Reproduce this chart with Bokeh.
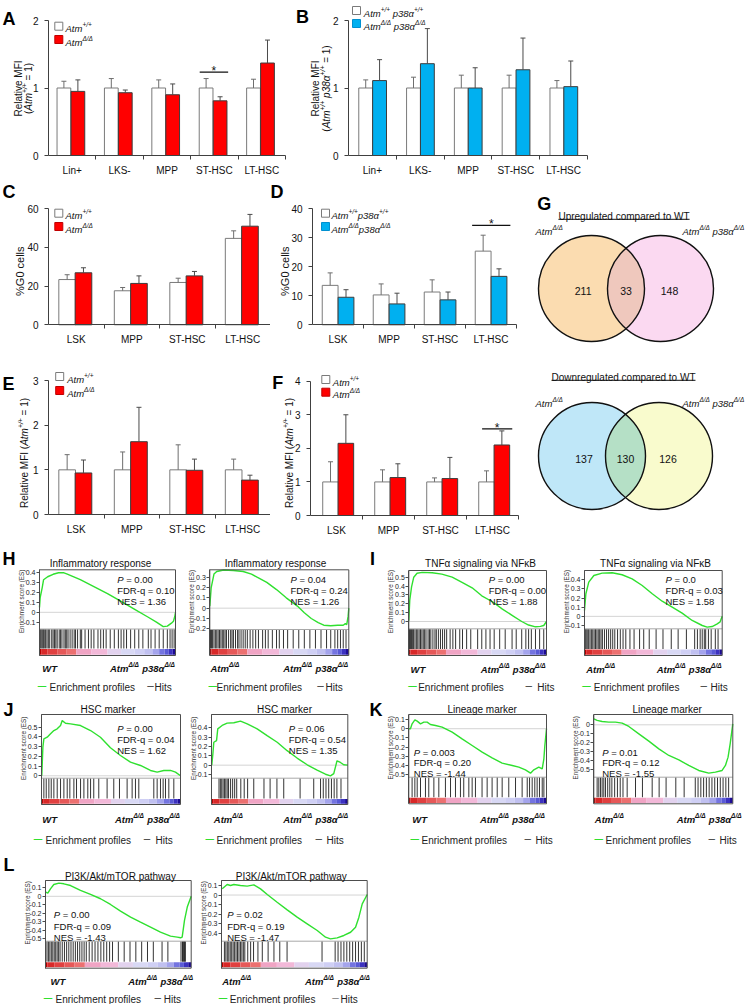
import numpy as np
from bokeh.plotting import figure
from bokeh.models import Range1d, FixedTicker, CustomJSTickFormatter, Label, LinearAxis
from bokeh.layouts import row, column
from bokeh.core.properties import value
from bokeh.embed import file_html
from bokeh.resources import INLINE

FONT = "Liberation Sans"
RED = "#ff0000"
BLUE = "#00b0f0"
GREEN = "#2fe02f"

# ---------------- data: bar charts ----------------
A_cats = ["Lin+", "LKS-", "MPP", "ST-HSC", "LT-HSC"]
A_yticks = [0, 1, 2]
A_wt = [1.0, 1.0, 1.0, 1.0, 1.0]
A_wt_err = [0.10, 0.14, 0.12, 0.14, 0.13]
A_mut = [0.95, 0.93, 0.90, 0.81, 1.37]
A_mut_err = [0.17, 0.04, 0.16, 0.06, 0.34]
A_sig = [(3, 1.235)]

B_cats = ["Lin+", "LKS-", "MPP", "ST-HSC", "LT-HSC"]
B_yticks = [0, 1, 2]
B_wt = [1.0, 1.0, 1.0, 1.0, 1.0]
B_wt_err = [0.12, 0.16, 0.19, 0.19, 0.11]
B_mut = [1.11, 1.36, 1.00, 1.27, 1.02]
B_mut_err = [0.31, 0.52, 0.30, 0.47, 0.38]

C_cats = ["LSK", "MPP", "ST-HSC", "LT-HSC"]
C_yticks = [0, 20, 40, 60]
C_wt = [23.4, 17.6, 21.9, 44.7]
C_wt_err = [2.5, 1.7, 2.2, 3.9]
C_mut = [26.9, 21.4, 25.3, 51.0]
C_mut_err = [2.6, 3.9, 2.3, 6.1]

D_cats = ["LSK", "MPP", "ST-HSC", "LT-HSC"]
D_yticks = [0, 10, 20, 30, 40]
D_wt = [13.6, 10.3, 11.3, 25.4]
D_wt_err = [4.3, 3.8, 4.2, 5.5]
D_mut = [9.5, 7.2, 8.6, 16.7]
D_mut_err = [2.6, 3.7, 2.7, 2.6]
D_sig = [(3, 34.3)]

E_cats = ["LSK", "MPP", "ST-HSC", "LT-HSC"]
E_yticks = [0, 1, 2, 3]
E_wt = [1.0, 1.0, 1.0, 1.0]
E_wt_err = [0.34, 0.40, 0.56, 0.24]
E_mut = [0.93, 1.63, 0.99, 0.77]
E_mut_err = [0.29, 0.77, 0.25, 0.11]

F_cats = ["LSK", "MPP", "ST-HSC", "LT-HSC"]
F_yticks = [0, 1, 2, 3, 4]
F_wt = [1.0, 1.0, 1.0, 1.0]
F_wt_err = [0.60, 0.36, 0.12, 0.33]
F_mut = [2.15, 1.13, 1.10, 2.10]
F_mut_err = [0.85, 0.41, 0.63, 0.42]
F_sig = [(3, 2.58)]

# ---------------- data: Venn ----------------
G_up_counts = [211, 33, 148]
G_down_counts = [137, 130, 126]

# ---------------- data: GSEA ----------------
H1_rank = [0.0, 0.005, 0.02, 0.03, 0.06, 0.1, 0.14, 0.18, 0.2, 0.3, 0.4, 0.5, 0.6, 0.7, 0.8, 0.86, 0.91, 0.94, 0.97, 0.985, 0.995, 1.0]
H1_es = [0.05, 0.15, 0.25, 0.33, 0.36, 0.385, 0.40, 0.40, 0.39, 0.33, 0.26, 0.19, 0.11, 0.03, -0.05, -0.10, -0.145, -0.14, -0.11, -0.09, -0.04, 0.0]
H1_hits = [0.005, 0.012, 0.02, 0.028, 0.035, 0.045, 0.055, 0.065, 0.075, 0.09, 0.1, 0.11, 0.12, 0.13, 0.145, 0.155,
           0.165, 0.18, 0.19, 0.2, 0.21, 0.225, 0.24, 0.255, 0.265, 0.28, 0.3, 0.31, 0.335, 0.36, 0.38, 0.4, 0.43,
           0.45, 0.47, 0.49, 0.52, 0.55, 0.58, 0.6, 0.62, 0.64, 0.67, 0.7, 0.73, 0.76, 0.8, 0.82, 0.85, 0.88, 0.91,
           0.94, 0.96, 0.975, 0.99]
H1_stats = ["0.00", "0.10", "1.36"]

H2_rank = [0.0, 0.01, 0.03, 0.05, 0.1, 0.17, 0.24, 0.3, 0.34, 0.41, 0.48, 0.55, 0.63, 0.68, 0.73, 0.78, 0.82, 0.87, 0.92, 0.96, 0.975, 0.985, 0.995, 1.0]
H2_es = [0.02, 0.2, 0.33, 0.355, 0.37, 0.365, 0.355, 0.33, 0.3, 0.25, 0.18, 0.1, 0.02, -0.045, -0.1, -0.14, -0.165, -0.17, -0.165, -0.165, -0.15, -0.16, -0.08, 0.0]
H2_hits = [0.005, 0.012, 0.02, 0.03, 0.04, 0.05, 0.06, 0.07, 0.08, 0.09, 0.1, 0.11, 0.12, 0.135, 0.15, 0.16, 0.17,
           0.185, 0.2, 0.21, 0.225, 0.24, 0.255, 0.27, 0.29, 0.31, 0.33, 0.35, 0.38, 0.4, 0.42, 0.45, 0.48, 0.5,
           0.53, 0.56, 0.6, 0.64, 0.68, 0.72, 0.76, 0.8, 0.84, 0.87, 0.9, 0.92, 0.94, 0.96, 0.98]
H2_stats = ["0.04", "0.24", "1.26"]

I1_rank = [0.0, 0.007, 0.02, 0.036, 0.06, 0.097, 0.17, 0.24, 0.315, 0.39, 0.46, 0.53, 0.61, 0.68, 0.75, 0.82, 0.87, 0.92, 0.956, 0.98, 1.0]
I1_es = [0.01, 0.24, 0.39, 0.5, 0.545, 0.555, 0.55, 0.535, 0.5, 0.44, 0.38, 0.29, 0.22, 0.14, 0.07, 0.0, -0.04, -0.06, -0.055, -0.045, 0.0]
I1_hits = [0.005, 0.012, 0.02, 0.028, 0.035, 0.045, 0.055, 0.065, 0.075, 0.085, 0.095, 0.105, 0.115, 0.125, 0.14,
           0.15, 0.16, 0.175, 0.19, 0.2, 0.215, 0.23, 0.245, 0.26, 0.275, 0.3, 0.32, 0.34, 0.37, 0.39, 0.42, 0.45,
           0.5, 0.53, 0.56, 0.59, 0.62, 0.66, 0.7, 0.75, 0.78, 0.82, 0.85, 0.87, 0.89, 0.92, 0.95, 0.98]
I1_stats = ["0.00", "0.00", "1.88"]

I2_rank = [0.0, 0.01, 0.031, 0.068, 0.128, 0.201, 0.273, 0.346, 0.419, 0.492, 0.564, 0.637, 0.709, 0.782, 0.855, 0.891, 0.927, 0.964, 0.985, 1.0]
I2_es = [0.064, 0.247, 0.374, 0.447, 0.473, 0.477, 0.455, 0.411, 0.338, 0.247, 0.166, 0.1, 0.035, -0.045, -0.1, -0.118, -0.111, -0.082, -0.06, 0.0]
I2_hits = [0.005, 0.012, 0.02, 0.03, 0.04, 0.05, 0.06, 0.07, 0.08, 0.09, 0.1, 0.11, 0.12, 0.13, 0.145, 0.16, 0.175,
           0.19, 0.205, 0.22, 0.24, 0.26, 0.28, 0.3, 0.33, 0.36, 0.4, 0.43, 0.47, 0.52, 0.57, 0.63, 0.68, 0.74, 0.8,
           0.82, 0.84, 0.855, 0.87, 0.88, 0.9, 0.92, 0.95, 0.97]
I2_stats = ["0.0", "0.03", "1.58"]

J1_rank = [0.002, 0.01, 0.017, 0.041, 0.065, 0.089, 0.113, 0.137, 0.149, 0.173, 0.209, 0.281, 0.353, 0.424, 0.496, 0.568, 0.64, 0.712, 0.784, 0.832, 0.88, 0.928, 0.964, 1.0]
J1_es = [0.0, 0.295, 0.38, 0.397, 0.432, 0.466, 0.483, 0.517, 0.568, 0.541, 0.534, 0.517, 0.466, 0.397, 0.288, 0.209, 0.14, 0.106, 0.055, 0.038, 0.055, 0.055, 0.038, 0.0]
J1_hits = [0.017, 0.034, 0.053, 0.07, 0.089, 0.113, 0.137, 0.161, 0.185, 0.204, 0.233, 0.252, 0.281, 0.305, 0.333,
           0.353, 0.376, 0.412, 0.472, 0.52, 0.561, 0.616, 0.652, 0.676, 0.7, 0.808, 0.832, 0.856, 0.875, 0.892,
           0.916, 0.952]
J1_stats = ["0.00", "0.04", "1.62"]

J2_rank = [0.002, 0.01, 0.017, 0.037, 0.046, 0.078, 0.115, 0.164, 0.213, 0.262, 0.335, 0.408, 0.482, 0.555, 0.628, 0.702, 0.775, 0.836, 0.873, 0.897, 0.921, 0.946, 0.97, 1.0]
J2_es = [0.0, 0.119, 0.245, 0.263, 0.389, 0.425, 0.45, 0.454, 0.472, 0.443, 0.389, 0.317, 0.245, 0.155, 0.076, 0.004, -0.054, -0.097, -0.115, -0.09, 0.047, 0.029, 0.004, 0.0]
J2_hits = [0.055, 0.065, 0.075, 0.085, 0.095, 0.105, 0.115, 0.125, 0.14, 0.155, 0.17, 0.185, 0.215, 0.24, 0.265,
           0.31, 0.385, 0.43, 0.48, 0.53, 0.65, 0.75, 0.8, 0.82, 0.84, 0.86, 0.88, 0.9, 0.92, 0.95]
J2_stats = ["0.06", "0.54", "1.35"]

K1_rank = [0.002, 0.012, 0.024, 0.044, 0.061, 0.085, 0.109, 0.133, 0.157, 0.194, 0.242, 0.315, 0.387, 0.46, 0.533, 0.605, 0.678, 0.751, 0.799, 0.847, 0.884, 0.908, 0.944, 0.969, 0.981, 0.988, 1.0]
K1_es = [0.0, -0.001, 0.053, 0.096, 0.082, 0.053, 0.071, 0.071, 0.046, 0.035, 0.017, -0.037, -0.11, -0.182, -0.254, -0.316, -0.373, -0.399, -0.417, -0.446, -0.482, -0.446, -0.417, -0.435, -0.326, -0.182, 0.0]
K1_hits = [0.024, 0.044, 0.061, 0.085, 0.121, 0.145, 0.182, 0.218, 0.266, 0.303, 0.339, 0.375, 0.399, 0.436, 0.46,
           0.484, 0.532, 0.569, 0.605, 0.642, 0.678, 0.726, 0.775, 0.823, 0.86, 0.877, 0.896, 0.915, 0.932, 0.949,
           0.969, 0.981]
K1_stats = ["0.003", "0.20", "-1.44"]

K2_rank = [0.0, 0.024, 0.06, 0.108, 0.156, 0.204, 0.252, 0.324, 0.396, 0.468, 0.54, 0.612, 0.683, 0.755, 0.827, 0.875, 0.923, 0.947, 0.966, 0.981, 1.0]
K2_es = [0.067, 0.049, 0.037, 0.03, 0.03, 0.019, -0.019, -0.101, -0.183, -0.269, -0.343, -0.392, -0.455, -0.511, -0.541, -0.53, -0.511, -0.455, -0.362, -0.213, 0.011]
K2_hits = [0.024, 0.036, 0.048, 0.06, 0.072, 0.084, 0.1, 0.115, 0.13, 0.15, 0.17, 0.19, 0.21, 0.24, 0.3, 0.35, 0.42,
           0.47, 0.52, 0.59, 0.65, 0.73, 0.75, 0.77, 0.79, 0.81, 0.83, 0.85, 0.87, 0.89, 0.91, 0.93, 0.95, 0.97]
K2_stats = ["0.01", "0.12", "-1.55"]

L1_rank = [0.002, 0.016, 0.034, 0.057, 0.092, 0.126, 0.172, 0.24, 0.309, 0.378, 0.446, 0.515, 0.584, 0.652, 0.721, 0.789, 0.858, 0.904, 0.927, 0.938, 0.954, 0.973, 1.0]
L1_es = [0.049, 0.037, 0.088, 0.139, 0.155, 0.147, 0.127, 0.069, 0.022, -0.029, -0.096, -0.175, -0.245, -0.304, -0.363, -0.422, -0.469, -0.48, -0.488, -0.48, -0.284, -0.127, 0.0]
L1_hits = [0.01, 0.02, 0.03, 0.04, 0.05, 0.06, 0.07, 0.08, 0.09, 0.1, 0.115, 0.13, 0.145, 0.16, 0.175, 0.19, 0.205,
           0.22, 0.235, 0.25, 0.265, 0.28, 0.3, 0.32, 0.34, 0.36, 0.38, 0.4, 0.42, 0.44, 0.46, 0.5, 0.54, 0.58,
           0.62, 0.66, 0.7, 0.74, 0.8, 0.84, 0.93, 0.94, 0.945, 0.95, 0.955, 0.96]
L1_stats = ["0.00", "0.09", "-1.43"]

L2_rank = [0.005, 0.039, 0.062, 0.085, 0.13, 0.176, 0.222, 0.268, 0.314, 0.382, 0.451, 0.519, 0.588, 0.657, 0.714, 0.748, 0.794, 0.84, 0.886, 0.92, 0.943, 0.966, 1.0]
L2_es = [0.065, 0.11, 0.1, 0.11, 0.1, 0.093, 0.107, 0.065, 0.006, -0.075, -0.155, -0.232, -0.302, -0.372, -0.442, -0.459, -0.449, -0.424, -0.39, -0.337, -0.232, -0.092, 0.006]
L2_hits = [0.02, 0.03, 0.04, 0.05, 0.06, 0.07, 0.08, 0.09, 0.1, 0.11, 0.12, 0.13, 0.14, 0.15, 0.16, 0.18, 0.2, 0.22,
           0.25, 0.28, 0.32, 0.36, 0.4, 0.45, 0.69, 0.78, 0.8, 0.82, 0.84, 0.86, 0.88, 0.9, 0.92, 0.94, 0.96, 0.98]
L2_stats = ["0.02", "0.19", "-1.47"]

H_ticks1 = [0.4, 0.3, 0.2, 0.1, 0.0, -0.1]
H_ticks2 = [0.3, 0.2, 0.1, 0.0, -0.1, -0.2]
I_ticks1 = [0.5, 0.4, 0.3, 0.2, 0.1, 0.0]
I_ticks2 = [0.4, 0.3, 0.2, 0.1, 0.0, -0.1]
J_ticks1 = [0.5, 0.4, 0.3, 0.2, 0.1, 0.0]
J_ticks2 = [0.4, 0.3, 0.2, 0.1, 0.0, -0.1]
K_ticks1 = [0.1, 0.0, -0.1, -0.2, -0.3, -0.4, -0.5]
K_ticks2 = [0.0, -0.1, -0.2, -0.3, -0.4, -0.5]
L_ticks1 = [0.1, 0.0, -0.1, -0.2, -0.3, -0.4, -0.5]
L_ticks2 = [0.1, 0.0, -0.1, -0.2, -0.3, -0.4]

# colour bar (style)
CB_STOPS = [0.0, 0.012, 0.06, 0.13, 0.2, 0.27, 0.38, 0.5, 0.6, 0.7, 0.77, 0.83, 0.88, 0.92, 0.95, 0.98, 1.0]
CB_COLORS = ["#b40000", "#d82828", "#e04040", "#e65858", "#ec7070", "#f0a4c4", "#f2b8d8", "#e2d2ee",
             "#d8d8f4", "#cfcff4", "#c0c0f0", "#a4a4ec", "#7474e0", "#5a5ad6", "#3c32c0", "#1c0a94"]

# ---------------- text metrics (Arial-compatible) ----------------
REG_W = {' ': 278, '!': 278, '%': 889, '(': 333, ')': 333, '*': 389, '+': 584, '-': 333,
         '.': 278, '/': 278, '=': 584, '\u2014': 1000}
for _c in "0123456789":
    REG_W[_c] = 556
REG_W.update(dict(zip("ABCDEFGHIJKLMNOPQRSTUVWXYZ",
                      [667, 667, 722, 722, 667, 611, 778, 722, 278, 500, 667, 556, 833, 722, 778, 667, 778, 722,
                       667, 611, 722, 667, 944, 667, 667, 611])))
REG_W.update(dict(zip("abcdefghijklmnopqrstuvwxyz",
                      [556, 556, 500, 556, 556, 278, 556, 556, 222, 222, 500, 222, 833, 556, 556, 556, 556, 333,
                       500, 278, 556, 500, 722, 500, 500, 500])))
REG_W.update({'\u0394': 668, '\u03b1': 578, '\u03ba': 500})
BOLD_W = dict(REG_W)
BOLD_W.update(dict(zip("ABCDEFGHIJKLMNOPQRSTUVWXYZ",
                       [722, 722, 722, 722, 667, 611, 778, 722, 278, 556, 722, 611, 833, 722, 778, 667, 778, 722,
                        667, 611, 722, 667, 944, 667, 667, 611])))
BOLD_W.update(dict(zip("abcdefghijklmnopqrstuvwxyz",
                       [556, 611, 556, 611, 556, 333, 611, 611, 278, 278, 556, 278, 889, 611, 611, 611, 611, 389,
                        556, 333, 611, 556, 778, 556, 556, 500])))
BOLD_W.update({'\u0394': 722, '\u03b1': 615})

BASE = 0.27  # distance from visual text centre to baseline, in em


def tw(s, size, bold=False):
    tbl = BOLD_W if bold else REG_W
    return sum(tbl.get(c, 556) for c in s) * size / 1000.0


def style_of(st):
    b = 'b' in st
    i = 'i' in st
    if b and i:
        return "bold italic"
    if b:
        return "bold"
    if i:
        return "italic"
    return "normal"


def put(p, fr, X, Y, segs, size, align="left", vertical=False, color="#111111"):
    """Rich text; (X, Y) page coords of the anchor, Y = visual centre of the line. fr = canvas rect."""
    items = []
    for t, st in segs:
        sup = 's' in st
        sz = size * 0.68 if sup else size
        items.append((t, st, sz, sup, tw(t, sz, 'b' in st)))
    total = sum(it[4] for it in items)
    off = {"left": 0.0, "center": -total / 2.0, "right": -total}[align]
    if vertical:
        adv = (0.0, -1.0)
        up = (-1.0, 0.0)
        ang = np.pi / 2
    else:
        adv = (1.0, 0.0)
        up = (0.0, -1.0)
        ang = 0.0
    bx = X - up[0] * BASE * size
    by = Y - up[1] * BASE * size
    for t, st, sz, sup, w in items:
        lead = len(t) - len(t.lstrip(' '))
        o = off + tw(' ' * lead, sz, 'b' in st)
        rz = 0.40 * size if sup else 0.0
        px = bx + adv[0] * o + up[0] * rz
        py = by + adv[1] * o + up[1] * rz
        txt = t.strip(' ')
        if txt:
            p.add_layout(Label(x=px - fr[0], y=fr[3] - py, x_units="screen", y_units="screen", text=txt,
                               angle=ang, text_font=FONT, text_font_size="%.2fpx" % sz,
                               text_font_style=style_of(st), text_color=color, text_align="left",
                               text_baseline="alphabetic"))
        off += w


def mk(cell, X, Y):
    """Figure whose frame is the whole cell; X/Y give two (page px, data) pairs for each scale."""
    cx0, cy0, cx1, cy1 = cell
    (PXa, dxa), (PXb, dxb) = X
    kx = (dxb - dxa) / float(PXb - PXa)
    (PYa, dya), (PYb, dyb) = Y
    ky = (dyb - dya) / float(PYb - PYa)
    xr = Range1d(dxa + (cx0 - PXa) * kx, dxa + (cx1 - PXa) * kx)
    yr = Range1d(dya + (cy1 - PYa) * ky, dya + (cy0 - PYa) * ky)
    p = figure(width=cx1 - cx0, height=cy1 - cy0, x_range=xr, y_range=yr, toolbar_location=None, tools="",
               output_backend="svg", min_border=0, x_axis_location=None, y_axis_location=None)
    p.grid.visible = False
    p.xgrid.grid_line_color = None
    p.ygrid.grid_line_color = None
    p.outline_line_color = None
    p.background_fill_color = "white"
    p.border_fill_color = "white"

    def fx(PX):
        return dxa + (PX - PXa) * kx

    def fy(PY):
        return dya + (PY - PYa) * ky

    return p, cell, fx, fy


def letter(p, fr, X, Y, ch):
    put(p, fr, X, Y, [(ch, "b")], 18, color="#000000")


def style_axis(ax, size="10px", col="#404040"):
    ax.axis_line_color = col
    ax.major_tick_line_color = col
    ax.minor_tick_line_color = col
    ax.major_label_text_font = FONT
    ax.major_label_text_font_size = size
    ax.major_label_text_color = "#111111"


# ---------------- bar panels ----------------
def bar_panel(cell, fxp, ytop_px, y0_px, ymax, yticks, cats, wt, wt_err, mut, mut_err, mcolor, offs,
              sigs=(), span=(0.2, 0.8)):
    n = len(cats)
    p, fr, fx, fy = mk(cell, ((fxp[0], 0.0), (fxp[1], float(n))), ((y0_px, 0.0), (ytop_px, float(ymax))))
    idx = np.arange(n, dtype=float)
    wo, mo, bw = offs
    xw = idx + wo
    xm = idx + mo
    wt = np.asarray(wt, float)
    mut = np.asarray(mut, float)
    wt_hi = wt + np.asarray(wt_err, float)
    mut_hi = mut + np.asarray(mut_err, float)
    p.vbar(x=xw, top=wt, bottom=0, width=bw, fill_color="white", line_color="#7a7a7a", line_width=1)
    p.vbar(x=xm, top=mut, bottom=0, width=bw, fill_color=mcolor, line_color="#3c3c3c", line_width=1)
    for xs, lo, hi, col in ((xw, wt, wt_hi, "#6e6e6e"), (xm, mut, mut_hi, "#4a4a4a")):
        p.segment(x0=xs, y0=lo, x1=xs, y1=hi, line_color=col, line_width=1)
        p.scatter(x=xs, y=hi, marker="dash", size=5, line_color=col, line_width=1)
    if sigs:
        si = np.array([s[0] for s in sigs], float)
        sh = [s[1] for s in sigs]
        p.segment(x0=si + span[0], y0=sh, x1=si + span[1], y1=sh, line_color="#111111", line_width=1.3)
        p.text(x=si + (span[0] + span[1]) / 2.0, y=sh, text=["*"] * len(sigs), text_font=value(FONT),
               text_font_size="12px", text_align="center", text_baseline="alphabetic", y_offset=-1,
               text_color="#111111")
    yax = LinearAxis(fixed_location=0, bounds=(0, ymax), ticker=FixedTicker(ticks=[float(t) for t in yticks]))
    yax.major_tick_in = 0
    yax.major_tick_out = 4
    yax.minor_tick_in = 0
    yax.minor_tick_out = 0
    yax.major_label_standoff = 6
    style_axis(yax)
    p.add_layout(yax, "left")
    xax = LinearAxis(fixed_location=0, bounds=(0, n),
                     ticker=FixedTicker(ticks=[float(i) + 0.5 for i in range(n)],
                                        minor_ticks=[float(i) for i in range(1, n + 1)]),
                     formatter=CustomJSTickFormatter(args=dict(labels=list(cats)),
                                                     code="return labels[Math.floor(tick)];"))
    xax.major_tick_in = 0
    xax.major_tick_out = 0
    xax.minor_tick_in = 0
    xax.minor_tick_out = 4
    xax.major_label_standoff = 5
    style_axis(xax)
    p.add_layout(xax, "below")
    return p, fr, fx, fy


def bar_legend(p, fr, fx, fy, sqx, tx, rows, entries, size=9.5):
    for (fill, line, segs), ry in zip(entries, rows):
        p.scatter(x=[fx(sqx)], y=[fy(ry)], marker="square", size=8, fill_color=fill, line_color=line, line_width=1)
        put(p, fr, tx, ry, segs, size)


WT_SEG = [("Atm", "i"), ("+/+", "is")]
MUT_SEG = [("Atm", "i"), ("\u0394/\u0394", "is")]
WT2_SEG = [("Atm", "i"), ("+/+", "is"), (" p38\u03b1", "i"), ("+/+", "is")]
MUT2_SEG = [("Atm", "i"), ("\u0394/\u0394", "is"), (" p38\u03b1", "i"), ("\u0394/\u0394", "is")]
WT3_SEG = [("Atm", "i"), ("+/+", "is"), ("p38\u03b1", "i"), ("+/+", "is")]
MUT3_SEG = [("Atm", "i"), ("\u0394/\u0394", "is"), ("p38\u03b1", "i"), ("\u0394/\u0394", "is")]

# A
pA, frA, fxA, fyA = bar_panel((0, 0, 295, 178), (48, 285), 20, 155, 2, A_yticks, A_cats, A_wt, A_wt_err, A_mut,
                              A_mut_err, RED, (0.325, 0.62, 0.29), A_sig, (0.19, 0.79))
letter(pA, frA, 2, 13.3, "A")
put(pA, frA, 15.3, 88, [("Relative MFI", "")], 10, align="center", vertical=True)
put(pA, frA, 25.3, 88, [("(", ""), ("Atm", "i"), ("+/+", "is"), (" = 1)", "")], 10, align="center", vertical=True)
bar_legend(pA, frA, fxA, fyA, 58.3, 65, (25.7, 39), [("white", "#7a7a7a", WT_SEG), (RED, "#c00000", MUT_SEG)])

# B
pB, frB, fxB, fyB = bar_panel((295, 0, 750, 178), (348, 587), 20, 155, 2, B_yticks, B_cats, B_wt, B_wt_err, B_mut,
                              B_mut_err, BLUE, (0.36, 0.65, 0.29))
letter(pB, frB, 295.5, 12, "B")
put(pB, frB, 312.3, 88, [("Relative MFI", "")], 10, align="center", vertical=True)
put(pB, frB, 323.3, 88, [("(", ""), ("Atm", "i"), ("+/+", "is"), (" p38\u03b1", "i"), ("+/+", "is"),
                         (" = 1)", "")], 10, align="center", vertical=True)
bar_legend(pB, frB, fxB, fyB, 356, 363.3, (10, 23), [("white", "#7a7a7a", WT2_SEG), (BLUE, "#0090d0", MUT2_SEG)])

# C
pC, frC, fxC, fyC = bar_panel((0, 178, 270, 346), (48, 270), 208.3, 324.3, 60, C_yticks, C_cats, C_wt, C_wt_err,
                              C_mut, C_mut_err, RED, (0.336, 0.63, 0.3))
letter(pC, frC, 2, 186.7, "C")
put(pC, frC, 17, 270.7, [("%G0 cells", "")], 11, align="center", vertical=True)
bar_legend(pC, frC, fxC, fyC, 58.3, 65, (212.7, 226), [("white", "#7a7a7a", WT_SEG), (RED, "#c00000", MUT_SEG)])

# D
pD, frD, fxD, fyD = bar_panel((270, 178, 522, 346), (312, 516), 208.3, 324.3, 40, D_yticks, D_cats, D_wt,
                              D_wt_err, D_mut, D_mut_err, BLUE, (0.346, 0.657, 0.31), D_sig, (0.13, 0.88))
letter(pD, frD, 270, 186.7, "D")
put(pD, frD, 281.7, 270.7, [("%G0 cells", "")], 11, align="center", vertical=True)
bar_legend(pD, frD, fxD, fyD, 325, 331, (212.7, 226), [("white", "#7a7a7a", WT3_SEG), (BLUE, "#0090d0", MUT3_SEG)])

# E
pE, frE, fxE, fyE = bar_panel((0, 346, 270, 538), (48, 270), 380, 514, 3, E_yticks, E_cats, E_wt, E_wt_err, E_mut,
                              E_mut_err, RED, (0.336, 0.63, 0.3))
letter(pE, frE, 2, 378.3, "E")
put(pE, frE, 21.7, 452.5, [("Relative MFI (", ""), ("Atm", "i"), ("+/+", "is"), (" = 1)", "")], 10,
    align="center", vertical=True)
bar_legend(pE, frE, fxE, fyE, 59.2, 66.7, (376, 390), [("white", "#7a7a7a", WT_SEG), (RED, "#c00000", MUT_SEG)])

# F
pF, frF, fxF, fyF = bar_panel((270, 346, 522, 538), (310, 518), 380.7, 515, 4, F_yticks, F_cats, F_wt, F_wt_err,
                              F_mut, F_mut_err, RED, (0.385, 0.68, 0.3), F_sig, (0.3, 0.88))
letter(pF, frF, 271.7, 378, "F")
put(pF, frF, 286.7, 452.5, [("Relative MFI (", ""), ("Atm", "i"), ("+/+", "is"), (" = 1)", "")], 10,
    align="center", vertical=True)
bar_legend(pF, frF, fxF, fyF, 325.3, 332.3, (379, 391.7), [("white", "#7a7a7a", WT_SEG), (RED, "#c00000", MUT_SEG)])

# ---------------- G: Venn diagrams ----------------
cellG = (522, 178, 750, 538)
pG, frG, fxG, fyG = mk(cellG, ((522, 522.0), (750, 750.0)), ((538, 538.0), (178, 178.0)))


def venn(p, fr, cy, cx1, cx2, r, colors, counts, title, ty, lab_y):
    p.circle(x=[cx1], y=[cy], radius=r, fill_color=colors[0], line_color=None)
    p.circle(x=[cx2], y=[cy], radius=r, fill_color=colors[2], line_color=None)
    a = (cx2 - cx1) / 2.0
    th = np.arccos(a / r)
    t1 = np.linspace(-th, th, 60)
    t2 = np.linspace(np.pi - th, np.pi + th, 60)
    xs = np.concatenate([cx1 + r * np.cos(t1), cx2 + r * np.cos(t2)])
    ys = np.concatenate([cy + r * np.sin(t1), cy + r * np.sin(t2)])
    p.patch(xs, ys, fill_color=colors[1], line_color=None)
    p.circle(x=[cx1, cx2], y=[cy, cy], radius=r, fill_color=None, line_color="#111111", line_width=1.4)
    for xx, c in zip((cx1 - 8, (cx1 + cx2) / 2.0, cx2 + 9), counts):
        put(p, fr, xx, cy, [(str(c), "")], 10.5, align="center")
    tcx = (cx1 + cx2) / 2.0 - 2
    w = tw(title, 10)
    put(p, fr, tcx, ty, [(title, "")], 10, align="center")
    p.segment(x0=[tcx - w / 2], y0=[ty + 5.5], x1=[tcx + w / 2], y1=[ty + 5.5], line_color="#111111",
              line_width=1)
    put(p, fr, 535, lab_y, [("Atm", "i"), ("\u0394/\u0394", "is")], 9.5)
    put(p, fr, 682, lab_y, MUT2_SEG, 9.5)


letter(pG, frG, 536.7, 198.3, "G")
venn(pG, frG, 288, 591, 660, 53, ["#fbdcb0", "#efc8bd", "#fbd9f1"], G_up_counts,
     "Upregulated compared to WT", 213.3, 228.3)
venn(pG, frG, 455.5, 591.5, 658.5, 53.5, ["#bfe7f8", "#b5e0c6", "#f9fbcd"], G_down_counts,
     "Downregulated compared to WT", 374.3, 400)

# ---------------- GSEA panels ----------------
WT_LABEL = [("WT", "bi")]
ATM_LABEL = [("Atm", "bi"), ("\u0394/\u0394", "bis")]
RIGHT_LABEL = [("Atm", "bi"), ("\u0394/\u0394", "bis"), (" p38\u03b1", "bi"), ("\u0394/\u0394", "bis")]


def gsea(cfg):
    (va, ya), (vb, yb) = cfg["tA"], cfg["tB"]
    x0p, x1p = cfg["fx"]
    p, fr, fx, fy = mk(cfg["cell"], ((x0p, 0.0), (x1p, 1.0)), ((ya, va), (yb, vb)))
    ftop, fbot = cfg["ftop"], cfg["fbot"]
    es_bot = cfg["es_bot"]
    cb_top, cb_bot = cfg["cb"]
    p.segment(x0=[0.0], y0=[0.0], x1=[1.0], y1=[0.0], line_color="#d4d4d4", line_width=1)
    p.segment(x0=[0.0], y0=[fy(es_bot)], x1=[1.0], y1=[fy(es_bot)], line_color="#a8a8a8", line_width=1)
    p.segment(x0=cfg["hits"], y0=fy(es_bot + 0.5), x1=cfg["hits"], y1=fy(cb_top - 0.5),
              line_color="#000000", line_alpha=0.8, line_width=1)
    p.quad(left=CB_STOPS[:-1], right=CB_STOPS[1:], bottom=fy(cb_bot), top=fy(cb_top),
           fill_color=CB_COLORS, line_color=None)
    p.line(cfg["rank"], cfg["es"], line_color=GREEN, line_width=1.4)
    p.quad(left=[0.0], right=[1.0], bottom=[fy(fbot)], top=[fy(ftop)], fill_color=None,
           line_color="#4d4d4d", line_width=1)
    ax = LinearAxis(fixed_location=0, bounds=(fy(fbot), fy(ftop)), ticker=FixedTicker(ticks=cfg["ticks"]),
                    formatter=CustomJSTickFormatter(
                        code="return Math.abs(tick) < 1e-9 ? '0' : tick.toFixed(1);"))
    ax.major_tick_in = 0
    ax.major_tick_out = 3
    ax.minor_tick_in = 0
    ax.minor_tick_out = 0
    ax.major_label_standoff = 1
    style_axis(ax, size="7px", col="#4d4d4d")
    ax.major_label_text_color = "#222222"
    p.add_layout(ax, "left")
    # texts
    put(p, fr, x0p - 20, (ftop + es_bot) / 2.0 + 2, [("Enrichment score (ES)", "")], 6.3,
        align="center", vertical=True, color="#333333")
    put(p, fr, cfg["tx"], cfg["ty"], [(cfg["title"], "")], 10, align="center")
    st = cfg["stats"]
    r0, r1, r2 = cfg["srows"]
    put(p, fr, cfg["sx"], r0, [("P", "i"), (" = " + st[0], "")], 9.5)
    put(p, fr, cfg["sx"], r1, [("FDR-q = " + st[1], "")], 9.5)
    put(p, fr, cfg["sx"], r2, [("NES = " + st[2], "")], 9.5)
    put(p, fr, cfg["lx"], cfg["ly"], cfg["left"], 9.5)
    put(p, fr, cfg["rx"], cfg["ly"], RIGHT_LABEL, 9.5, align="right")
    g0, g1, g2, g3 = cfg["leg"]
    ly = cfg["legy"]
    put(p, fr, g0, ly - 1, [("\u2014", "b")], 8.5, color=GREEN)
    put(p, fr, g1, ly, [("Enrichment profiles", "")], 10, color="#222222")
    put(p, fr, g2, ly - 1, [("\u2014", "b")], 6.5, color=cfg.get("hitcol", "#222222"))
    put(p, fr, g3, ly, [("Hits", "")], 10, color="#222222")
    return p, fr


cfgs = [
    dict(cell=(0, 538, 181, 692), fx=(39, 175), ftop=569.3, fbot=655, tA=(0.4, 572.3), tB=(-0.1, 621.7),
         ticks=H_ticks1, es_bot=628.5, cb=(648.5, 654.3), rank=H1_rank, es=H1_es, hits=H1_hits,
         title="Inflammatory response", tx=100, ty=560.7, stats=H1_stats, sx=116.7, srows=(576.7, 587.7, 598.3),
         left=WT_LABEL, lx=41.7, rx=175, ly=665.5, leg=(37.3, 49, 146.7, 154), legy=684.3),
    dict(cell=(181, 538, 384, 692), fx=(209.3, 348.3), ftop=569.3, fbot=655, tA=(0.3, 576.7), tB=(-0.2, 628.3),
         ticks=H_ticks2, es_bot=629, cb=(648.5, 654.3), rank=H2_rank, es=H2_es, hits=H2_hits,
         title="Inflammatory response", tx=275, ty=560.7, stats=H2_stats, sx=290, srows=(576.7, 587.7, 598.3),
         left=ATM_LABEL, lx=210, rx=348.3, ly=665.5, leg=(208, 216, 316.7, 325), legy=684.3),
    dict(cell=(384, 538, 555, 692), fx=(408.3, 546), ftop=570, fbot=655, tA=(0.5, 576.7), tB=(0.0, 621),
         ticks=I_ticks1, es_bot=628.3, cb=(649, 654.3), rank=I1_rank, es=I1_es, hits=I1_hits,
         title="TNF\u03b1 signaling via NF\u03baB", tx=480, ty=560.7, stats=I1_stats, sx=488.3,
         srows=(576.7, 587.7, 598.7), left=WT_LABEL, lx=410, rx=545.7, ly=666, leg=(407.7, 417.7, 525, 536.7),
         legy=684.3),
    dict(cell=(555, 538, 750, 692), fx=(584, 721.7), ftop=570, fbot=655, tA=(0.4, 579.3), tB=(-0.1, 625),
         ticks=I_ticks2, es_bot=628.3, cb=(649, 654.3), rank=I2_rank, es=I2_es, hits=I2_hits,
         title="TNF\u03b1 signaling via NF\u03baB", tx=655, ty=560.7, stats=I2_stats, sx=665,
         srows=(576.7, 587.7, 598.7), left=ATM_LABEL, lx=585.7, rx=721.7, ly=666, leg=(581.7, 593.3, 700, 710),
         legy=684.3),
    dict(cell=(0, 692, 181, 846), fx=(41, 180), ftop=714, fbot=804, tA=(0.5, 726.7), tB=(0.0, 775.3),
         ticks=J_ticks1, es_bot=777.7, cb=(798.5, 803.3), rank=J1_rank, es=J1_es, hits=J1_hits,
         title="HSC marker", tx=107.5, ty=706, stats=J1_stats, sx=116.7, srows=(725, 736, 747.3),
         left=WT_LABEL, lx=41.7, rx=180, ly=816.7, leg=(33.3, 45, 143.3, 155), legy=837.3),
    dict(cell=(181, 692, 384, 846), fx=(211, 347.3), ftop=714, fbot=804, tA=(0.4, 727.3), tB=(-0.1, 774),
         ticks=J_ticks2, es_bot=777.7, cb=(798.5, 803.3), rank=J2_rank, es=J2_es, hits=J2_hits,
         title="HSC marker", tx=284, ty=706, stats=J2_stats, sx=288.3, srows=(725, 736, 747.3),
         left=ATM_LABEL, lx=213.3, rx=348.3, ly=816.7, leg=(205, 216, 315, 326), legy=837.3),
    dict(cell=(384, 692, 555, 846), fx=(408.3, 546), ftop=714, fbot=803.3, tA=(0.1, 719), tB=(-0.5, 774.3),
         ticks=K_ticks1, es_bot=776.7, cb=(797.3, 802.5), rank=K1_rank, es=K1_es, hits=K1_hits,
         title="Lineage marker", tx=481.7, ty=706, stats=K1_stats, sx=413.3, srows=(749, 759.3, 770),
         left=WT_LABEL, lx=411.7, rx=545, ly=816, leg=(410, 421, 524, 535), legy=837.3),
    dict(cell=(555, 692, 750, 846), fx=(593.3, 732.3), ftop=714, fbot=803.3, tA=(0.0, 724.3), tB=(-0.5, 769),
         ticks=K_ticks2, es_bot=776.7, cb=(797.3, 802.5), rank=K2_rank, es=K2_es, hits=K2_hits,
         title="Lineage marker", tx=666.7, ty=706, stats=K2_stats, sx=601.7, srows=(749, 759.3, 770),
         left=ATM_LABEL, lx=594.3, rx=741.7, ly=816, leg=(594, 605, 708, 719), legy=837.3),
    dict(cell=(0, 846, 196, 1004), fx=(45, 190.7), ftop=880, fbot=967.7, tA=(0.1, 887.3), tB=(-0.5, 938.3),
         ticks=L_ticks1, es_bot=940.7, cb=(961.7, 966.7), rank=L1_rank, es=L1_es, hits=L1_hits,
         title="PI3K/Akt/mTOR pathway", tx=120, ty=873.3, stats=L1_stats, sx=53.3, srows=(911.7, 923.3, 934.3),
         left=WT_LABEL, lx=50, rx=193.3, ly=978.3, leg=(43.3, 55, 154, 163.3), legy=996.7),
    dict(cell=(196, 846, 750, 1004), fx=(221, 366.7), ftop=880, fbot=967.7, tA=(0.1, 885), tB=(-0.4, 932.7),
         ticks=L_ticks2, es_bot=940.7, cb=(961.7, 966.7), rank=L2_rank, es=L2_es, hits=L2_hits,
         title="PI3K/Akt/mTOR pathway", tx=290.8, ty=873.3, stats=L2_stats, sx=226.7, srows=(911.7, 923.3, 934.3),
         left=ATM_LABEL, lx=221.7, rx=370, ly=978.3, leg=(218.3, 229.3, 331.7, 340), legy=996.7,
         hitcol="#777777"),
]

gfigs = [gsea(c) for c in cfgs]
(pH1, fH1), (pH2, fH2), (pI1, fI1), (pI2, fI2), (pJ1, fJ1), (pJ2, fJ2), (pK1, fK1), (pK2, fK2), (pL1, fL1), (pL2, fL2) = gfigs
letter(pH1, fH1, 2, 553.3, "H")
letter(pH2, fH2, 369.5, 553.3, "I")
letter(pJ1, fJ1, 3, 705, "J")
letter(pJ2, fJ2, 369, 705, "K")
letter(pL1, fL1, 3, 860, "L")

page = column(
    row(pA, pB),
    row(column(pC, pE), column(pD, pF), pG),
    row(pH1, pH2, pI1, pI2),
    row(pJ1, pJ2, pK1, pK2),
    row(pL1, pL2),
)

open("out.html", "w").write(file_html(page, INLINE))
